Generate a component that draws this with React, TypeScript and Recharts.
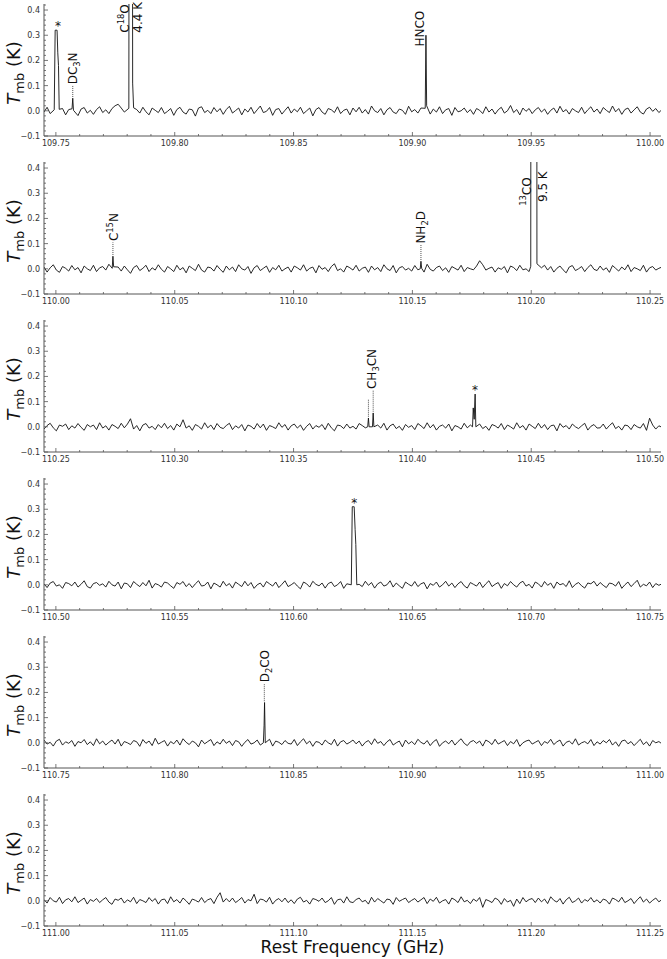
import React from 'react';
import { LineChart, Line, XAxis, YAxis, ReferenceLine, ReferenceDot, Label } from 'recharts';

const FONT = '"DejaVu Sans", sans-serif';
const AXIS = '#555';

// lower edge of each panel (GHz); each panel spans 0.25 GHz
const panelStarts = [109.75, 110.0, 110.25, 110.5, 110.75, 111.0];
const channelStep = 0.0013; // GHz between plotted channels

// baseline noise, mK
const noise1 = [
  -5, 14, -11, 4, 1, -7, 9, -16, 5, 11, -4, -19, 7, 13, -9, 2, -14, 5, 16, -7,
  4, -11, 9, 20, 26, 11, -5, 7, 18, -13, 5, -9, 14, -4, -16, 11, 2, -7, 13, -11,
  -2, 9, -18, 5, 14, -5, -13, 7, 4, -21, 11, 16, -7, 2, -11, 13, -4, 9, -14, 5,
  18, -9, 1, 11, -16, 7, -5, 14, -11, 4, 19, -7, -2, 13, -18, 5, 9, -13, 2, 16,
  -9, 7, -4, 14, -11, 0, 11, -20, 5, 13, -5, -14, 9, 4, -7, 16, -11, 2, 7, -16,
  11, -4, 14, -9, 5, -13, 19, 0, -7, 9, -16, 4, 13, -5, -11, 7, 2, -14, 18, -4,
  5, -9, 11, -2, 14, -13, 7, -5, 16, -11, 4, 9, -18, 13, -4, 0, 11, -7, 5, -14,
  9, 2, -11, 16, -5, 7, -13, 4, 14, -9, 0, 21, -7, 5, -16, 11, -2, 9, -11, 4,
  13, -5, 7, -14, 2, 11, -9, 18, -4, 5, -13, 9, 0, -7, 14, -11, 4, 16, -5, 7,
  -11, 13, 2, -7, 19, -4, 9, -14, 5, 11, -9, 4, 16, -5, -13, 7, 14, -2, 9, -7,
  5,
];
const noise2 = [
  7, -13, 4, 16, -5, -14, 9, 2, -9, 13, -4, 5, -16, 11, 0, -7, 14, -11, 4, 9,
  -5, 18, -13, 2, 7, -9, 11, -4, -18, 5, 13, -7, 2, 14, -11, 4, -5, 16, -2, -13,
  9, 0, -11, 14, -4, 5, -16, 11, 2, -7, 18, -5, -13, 7, 4, -9, 13, -2, -14, 11,
  -4, 7, -11, 16, 0, -5, 9, -18, 4, 13, -7, 2, 11, -14, 5, -4, 14, -9, 0, 7,
  -13, 11, 4, -5, 16, -9, 2, 7, -16, 13, -2, 5, -11, 9, 20, -7, 0, -13, 11, 4,
  -5, 14, -9, 2, 7, -14, 11, -4, 5, -11, 16, 0, -7, 13, -16, 4, 9, -5, 2, -9,
  13, -4, 7, -13, 18, -2, -9, 5, 11, -7, 4, -14, 9, 2, -5, 14, -11, 5, 0, -4,
  11, 32, 16, -5, 2, 7, -13, 4, -2, 9, -16, 11, 5, -7, 14, -4, 0, -11, 7, 13,
  -9, 4, 14, -5, 9, -13, 2, 11, -4, -16, 7, 13, -7, 0, 9, -11, 5, 16, -2, -7,
  11, -5, 4, -14, 13, 2, -9, 7, -4, 16, -11, 5, 0, -7, 14, -13, 4, 9, -5, 2,
  7,
];
const noise3 = [
  -9, 5, 14, -4, -16, 7, 2, 11, -11, 4, -5, 13, -2, -14, 9, 0, 7, -11, 16, -5,
  4, -13, 9, 2, -7, 14, -4, 11, 32, -9, 5, -16, 7, 13, -5, 2, -11, 9, -4, 14,
  -7, 5, -13, 11, 0, 28, -5, 4, -14, 9, 2, -9, 16, -4, 7, -11, 13, -2, -7, 5,
  14, -11, 4, -5, 9, -16, 7, 2, -9, 13, -4, 11, -14, 5, 0, -7, 16, -2, 9, -13,
  4, 11, -5, 7, -14, 2, 13, -9, 5, -2, 9, -11, 14, -4, -16, 7, 4, -7, 11, -5,
  2, -9, 13, 5, -4, -11, 9, 0, 7, -5, 14, -13, 4, 11, -7, 2, -14, 9, -2, 5,
  -11, 13, 4, -7, 16, -4, 9, -13, 2, 7, -5, 11, -16, 5, 0, -9, 14, -4, 7, -11,
  5, 11, -7, 2, -14, 9, 4, -5, 13, -11, 7, 0, -9, 16, -4, 5, -13, 11, 2, -7,
  14, -5, 9, -11, 4, 7, -16, 13, -2, 5, -9, 11, 0, -7, 4, 14, -13, 2, 9, -5,
  -4, 11, -9, 5, 16, -7, 2, -13, 7, 4, -11, 9, 0, -5, 13, -14, 34, 7, -9, 4,
  -2,
];
const noise4 = [
  4, -11, 7, 13, -5, 0, -14, 9, 5, -4, 11, -9, 2, 16, -7, -13, 5, 9, -2, 4,
  -9, 14, 0, -5, 11, -16, 7, 4, -11, 13, 2, -7, 9, -4, 18, -13, 5, 0, -9, 11,
  7, -4, -14, 9, 2, 13, -7, 5, -11, 4, 16, -5, -2, 11, -16, 7, 0, -9, 14, -4,
  5, -13, 11, 2, -7, 14, -4, 9, -14, 0, 7, -9, 13, 4, -5, 11, -11, 2, 16, -7,
  0, 9, -5, -16, 11, 4, -9, 14, 2, -4, 7, -13, 5, 11, -7, 0, 13, -14, 4, 9,
  -11, 5, 2, -7, 14, -2, 9, -13, 4, 11, -5, 0, 16, -9, 7, -4, -14, 11, 2, -5,
  13, -7, 4, 9, -16, 5, -2, 11, -9, 0, 14, -5, 7, -11, 4, 13, -4, -13, 9, 2,
  -5, 11, -11, 4, 16, -7, 2, 9, -14, 5, -4, 13, 0, -9, 7, 14, -5, 2, -13, 11,
  4, -9, 13, -2, 7, -14, 11, 0, 5, -7, 16, -11, 2, 9, -4, -13, 7, 4, 14, -5,
  9, -2, -11, 7, 4, -5, 13, -14, 0, 11, -7, 5, 18, -9, 2, -4, 11, -11, 5, -2,
  4,
];
const noise5 = [
  11, -5, 2, -13, 7, 14, -9, 4, -2, 9, -14, 5, 0, 13, -7, 4, -11, 16, -4, 7,
  -9, 2, 11, -5, 14, -13, 5, 0, -7, 9, 4, -14, 13, -2, 7, -11, 18, -5, 2, 9,
  -13, 5, -4, 11, -9, 16, 2, -7, 7, 0, -16, 11, -4, 5, 13, -11, 4, -5, 14, -2,
  7, -11, 9, 4, -14, 2, 13, -5, 0, 11, -9, 5, -4, 14, -13, 7, 2, -7, 9, -2,
  -5, 13, -11, 4, 16, -4, 7, -14, 5, 2, -9, 11, 0, -7, 14, -13, 4, 9, -5, 2,
  11, -4, 7, -13, 2, 9, -7, 16, -2, 5, -11, 4, 13, -9, 0, 7, -16, 11, -4, 5,
  -7, 14, 2, -5, 9, -11, 4, 13, -14, 0, 7, -4, 11, -9, 5, 16, -2, -11, 4, 9,
  -2, 7, -13, 11, 4, -7, 14, -5, 2, 9, -11, 5, -4, 13, -14, 0, 7, 11, -5, 2,
  9, -11, 5, -2, 14, -7, 4, 11, -13, 2, 7, -5, 16, -9, 0, 5, -4, 13, -11, 4,
  -5, 9, 0, 13, -9, 4, -14, 7, 11, -4, 5, -11, 2, 14, -7, 4, -13, 9, 0, 5,
  -4,
];
const noise6 = [
  5, -9, 13, 0, -5, 14, -11, 4, 9, -4, 16, -7, 2, 11, -13, 5, -2, 9, -7, 4,
  13, -5, -14, 7, 2, 11, -9, 4, -4, 14, -11, 5, 0, -7, 13, -2, 9, -13, 4, 7,
  -11, 16, -4, 5, -9, 11, 0, -14, 7, 2, -5, 13, -7, 4, 9, -11, 14, 32, -5, 9,
  -4, 11, -7, 2, 13, -9, 5, 0, 26, -11, 7, 4, -5, 14, -13, 2, 9, -4, 11, -7,
  4, -11, 7, 14, -5, 2, -13, 9, 5, -2, 11, -7, 0, 13, -14, 4, 7, -9, 16, -4,
  -7, 5, 11, -4, 2, -13, 14, -5, 9, 0, -9, 7, 4, -14, 13, -2, 5, 11, -7, 2,
  9, -5, 4, 13, -11, 7, -2, 14, -9, 0, 5, -13, 11, 4, -7, 16, -4, 2, -11, 7,
  -2, 13, -26, 5, 0, -7, 11, 4, -14, 9, -5, 2, -22, 7, -11, 13, -4, 5, 9, -7,
  11, -4, 7, -11, 16, 2, -5, 9, -13, 4, 14, -7, 0, 11, -9, 5, -2, 13, -5, 4,
  -9, 7, 2, -13, 11, 5, -4, 14, -7, 0, 9, -11, 4, 16, -5, 7, -9, 2, 11, -4,
  5,
];

// emission features: [GHz, K] channels
const lines1: [number, number][][] = [
  [[109.7493, 0.004], [109.7497, 0.32], [109.7501, 0.32], [109.7505, 0.32], [109.7508, 0.23], [109.7511, 0.18], [109.7514, 0.006]],
  [[109.7568, 0.008], [109.7571, 0.05], [109.7574, 0.002]],
  [[109.7807, 0.01], [109.7811, 4.0], [109.7815, 4.4], [109.7819, 4.2], [109.7823, 0.11], [109.7827, 0.012]],
  [[109.9054, 0.01], [109.9057, 0.3], [109.906, 0.02]],
];
const lines2: [number, number][][] = [
  [[110.0237, 0.002], [110.024, 0.05], [110.0243, 0.008]],
  [[110.1533, 0.0], [110.1536, 0.03], [110.1539, 0.002]],
  [[110.1998, 0.01], [110.2004, 9.5], [110.2012, 9.5], [110.2019, 9.5], [110.2024, 0.02]],
];
const lines3: [number, number][][] = [
  [[110.3812, 0.0], [110.3815, 0.035], [110.3818, 0.0]],
  [[110.3832, 0.0], [110.3835, 0.055], [110.3838, 0.0]],
  [[110.4253, 0.0], [110.4256, 0.075], [110.426, 0.03], [110.4264, 0.13], [110.4267, 0.0]],
];
const lines4: [number, number][][] = [
  [[110.6243, 0.0], [110.6247, 0.31], [110.6251, 0.31], [110.6255, 0.31], [110.6259, 0.22], [110.6262, 0.16], [110.6266, 0.0]],
];
const lines5: [number, number][][] = [
  [[110.8373, 0.0], [110.8376, 0.07], [110.8378, 0.16], [110.8381, 0.0]],
];
const lines6: [number, number][][] = [];

// dotted leaders: [GHz, from K, to K]
const leaders: [number, number, number][][] = [
  [[109.7571, 0.055, 0.1]],
  [[110.024, 0.055, 0.105], [110.1536, 0.035, 0.095]],
  [[110.3815, 0.04, 0.108], [110.3835, 0.06, 0.145]],
  [],
  [[110.8377, 0.165, 0.235]],
  [],
];

type Part = [string, ('sub' | 'sup')?];
type Tag = { f: number; t: number; parts: Part[] };
// vertical line identifications, text starts at t (K)
const tags: Tag[][] = [
  [
    { f: 109.7571, t: 0.105, parts: [['DC'], ['3', 'sub'], ['N']] },
    { f: 109.7791, t: 0.31, parts: [['C'], ['18', 'sup'], ['O']] },
    { f: 109.7844, t: 0.31, parts: [['4.4 K']] },
    { f: 109.903, t: 0.255, parts: [['HNCO']] },
  ],
  [
    { f: 110.0244, t: 0.11, parts: [['C'], ['15', 'sup'], ['N']] },
    { f: 110.1536, t: 0.1, parts: [['NH'], ['2', 'sub'], ['D']] },
    { f: 110.1979, t: 0.25, parts: [['13', 'sup'], ['CO']] },
    { f: 110.205, t: 0.265, parts: [['9.5 K']] },
  ],
  [{ f: 110.383, t: 0.15, parts: [['CH'], ['3', 'sub'], ['CN']] }],
  [],
  [{ f: 110.8377, t: 0.24, parts: [['D'], ['2', 'sub'], ['CO']] }],
  [],
];
// unidentified features marked with an asterisk: [GHz, K]
const stars: [number, number][][] = [
  [[109.7509, 0.35]],
  [],
  [[110.4263, 0.16]],
  [[110.6255, 0.335]],
  [],
  [],
];

const yTicks = [
  -0.1, -0.08, -0.06, -0.04, -0.02, 0, 0.02, 0.04, 0.06, 0.08, 0.1, 0.12, 0.14,
  0.16, 0.18, 0.2, 0.22, 0.24, 0.26, 0.28, 0.3, 0.32, 0.34, 0.36, 0.38, 0.4, 0.42,
];
const yDomain: [number, number] = [-0.1, 0.424];

const noiseByPanel = [noise1, noise2, noise3, noise4, noise5, noise6];
const linesByPanel = [lines1, lines2, lines3, lines4, lines5, lines6];

const buildSpectrum = (p: number) => {
  const lo = panelStarts[p] - 0.005;
  const groups = linesByPanel[p];
  const pts: { f: number; t: number }[] = [];
  noiseByPanel[p].forEach((mk, i) => {
    const f = lo + i * channelStep;
    const inside = groups.some((g) => f > g[0][0] - 0.0007 && f < g[g.length - 1][0] + 0.0007);
    if (!inside) pts.push({ f, t: mk / 1000 });
  });
  groups.forEach((g) => g.forEach(([f, t]) => pts.push({ f, t })));
  return pts.sort((a, b) => a.f - b.f);
};

const isMajorX = (v: number) => Math.round(v * 100) % 5 === 0;
const isMajorY = (v: number) => Math.abs(v * 10 - Math.round(v * 10)) < 1e-6;

const BottomTick = (props: any) => {
  const { x, y, payload } = props;
  const major = isMajorX(payload.value);
  return (
    <g>
      <line x1={x} x2={x} y1={y} y2={y - (major ? 4 : 2)} stroke={AXIS} strokeWidth={0.8} />
      {major && (
        <text x={x} y={y + 10} textAnchor="middle" fontSize={8} fontFamily={FONT} fill="#333">
          {payload.value.toFixed(2)}
        </text>
      )}
    </g>
  );
};
const TopTick = (props: any) => {
  const { x, y, payload } = props;
  const major = isMajorX(payload.value);
  return <line x1={x} x2={x} y1={y} y2={y + (major ? 4 : 2)} stroke={AXIS} strokeWidth={0.8} />;
};
const LeftTick = (props: any) => {
  const { x, y, payload } = props;
  const major = isMajorY(payload.value);
  const v: number = payload.value;
  const txt = v < 0 ? '\u2212' + Math.abs(v).toFixed(1) : v.toFixed(1);
  return (
    <g>
      <line x1={x} x2={x + (major ? 4 : 2)} y1={y} y2={y} stroke={AXIS} strokeWidth={0.8} />
      {major && (
        <text x={x - 4} y={y + 3} textAnchor="end" fontSize={8} fontFamily={FONT} fill="#333">
          {txt}
        </text>
      )}
    </g>
  );
};
const RightTick = (props: any) => {
  const { x, y, payload } = props;
  const major = isMajorY(payload.value);
  return <line x1={x} x2={x - (major ? 4 : 2)} y1={y} y2={y} stroke={AXIS} strokeWidth={0.8} />;
};

const YTitle = (props: any) => {
  const vb = props.viewBox;
  const cy = vb.y + vb.height / 2 + 3;
  return (
    <text transform={`translate(20,${cy}) rotate(-90)`} textAnchor="middle" fontFamily={FONT} fontSize={18} fill="#111">
      <tspan fontStyle="italic">T</tspan>
      <tspan fontSize={13} dy={4}>mb</tspan>
      <tspan dy={-4}>{'\u00a0(K)'}</tspan>
    </text>
  );
};
const XTitle = (props: any) => {
  const vb = props.viewBox;
  return (
    <text x={vb.x + vb.width / 2} y={vb.y + 27} textAnchor="middle" fontFamily={FONT} fontSize={17} fill="#111">
      Rest Frequency (GHz)
    </text>
  );
};

const shiftOf = (k?: string) => (k === 'sub' ? 3 : k === 'sup' ? -5 : 0);
const RotText = ({ cx, cy, parts }: { cx: number; cy: number; parts: Part[] }) => {
  const size = 12;
  let prev = 0;
  return (
    <text transform={`translate(${cx + size * 0.36},${cy}) rotate(-90)`} fontSize={size} fontFamily={FONT} fill="#111">
      {parts.map(([s, k], i) => {
        const sh = shiftOf(k);
        const dy = sh - prev;
        prev = sh;
        return (
          <tspan key={i} dy={dy} fontSize={k ? size * 0.7 : size}>
            {s}
          </tspan>
        );
      })}
    </text>
  );
};

const Panel = ({ index }: { index: number }) => {
  const last = index === panelStarts.length - 1;
  const start = panelStarts[index];
  const domain: [number, number] = [start - 0.005, start + 0.2546];
  const xTicks = Array.from({ length: 26 }, (_, k) => Math.round((start + k * 0.01) * 100) / 100);
  const data = buildSpectrum(index);
  return (
    <LineChart width={667} height={last ? 169 : 158} data={data} margin={{ top: 4, right: 6, bottom: 0, left: 0 }}>
      <XAxis
        dataKey="f"
        type="number"
        domain={domain}
        allowDataOverflow
        ticks={xTicks}
        interval={0}
        tick={BottomTick}
        tickLine={false}
        tickSize={0}
        tickMargin={0}
        axisLine={{ stroke: AXIS }}
        height={last ? 33 : 22}
      >
        {last && <Label content={XTitle} />}
      </XAxis>
      <XAxis
        xAxisId="top"
        orientation="top"
        dataKey="f"
        type="number"
        domain={domain}
        allowDataOverflow
        ticks={xTicks}
        interval={0}
        tick={TopTick}
        tickLine={false}
        tickSize={0}
        tickMargin={0}
        axisLine={{ stroke: AXIS }}
        height={0}
      />
      <YAxis
        type="number"
        domain={yDomain}
        allowDataOverflow
        ticks={yTicks}
        interval={0}
        tick={LeftTick}
        tickLine={false}
        tickSize={0}
        tickMargin={0}
        axisLine={{ stroke: AXIS }}
        width={44}
      >
        <Label content={YTitle} />
      </YAxis>
      <YAxis
        yAxisId="right"
        orientation="right"
        type="number"
        domain={yDomain}
        allowDataOverflow
        ticks={yTicks}
        interval={0}
        tick={RightTick}
        tickLine={false}
        tickSize={0}
        tickMargin={0}
        axisLine={{ stroke: AXIS }}
        width={0}
      />
      <Line dataKey="t" type="linear" stroke="#111" strokeWidth={0.9} dot={false} isAnimationActive={false} />
      {leaders[index].map(([f, a, b], i) => (
        <ReferenceLine
          key={'l' + i}
          segment={[{ x: f, y: a }, { x: f, y: b }]}
          stroke="#222"
          strokeWidth={0.8}
          strokeDasharray="1 1"
        />
      ))}
      {tags[index].map((tg, i) => (
        <ReferenceDot
          key={'t' + i}
          x={tg.f}
          y={tg.t}
          r={1}
          shape={(p: any) => <RotText cx={p.cx} cy={p.cy} parts={tg.parts} />}
        />
      ))}
      {stars[index].map(([f, t], i) => (
        <ReferenceDot
          key={'s' + i}
          x={f}
          y={t}
          r={1}
          shape={(p: any) => (
            <text x={p.cx} y={p.cy + 7} textAnchor="middle" fontSize={12} fontFamily={FONT} fill="#111">
              *
            </text>
          )}
        />
      ))}
    </LineChart>
  );
};

const App = () => (
  <div style={{ position: 'absolute', left: 0, top: 0, width: 667, height: 959, background: '#fff' }}>
    {panelStarts.map((_, i) => (
      <Panel key={i} index={i} />
    ))}
  </div>
);

export default App;
